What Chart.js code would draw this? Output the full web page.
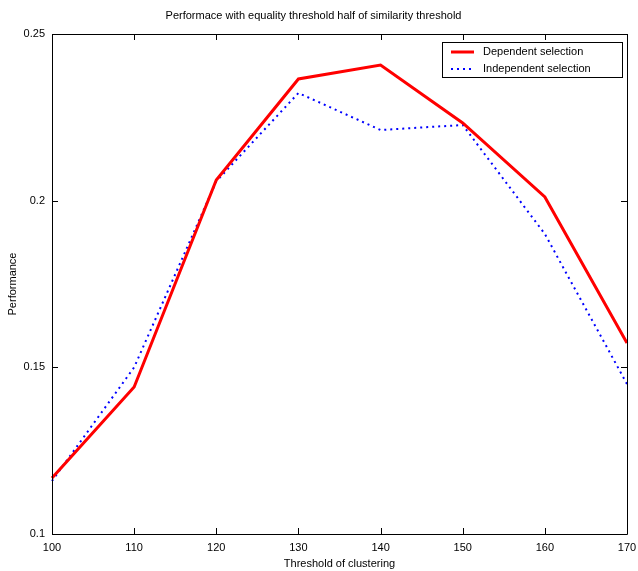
<!DOCTYPE html>
<html>
<head>
<meta charset="utf-8">
<script src="https://cdn.jsdelivr.net/npm/chart.js@4.4.0/dist/chart.umd.min.js"></script>
<style>
  html, body { margin: 0; padding: 0; background: #fff; }
  #c { display: block; }
</style>
</head>
<body>
<canvas id="c" width="638" height="571"></canvas>
<script>
const thresholds = [100, 110, 120, 130, 140, 150, 160, 170];
const dependentSelection = [0.1168, 0.1441, 0.2062, 0.2365, 0.2407, 0.2233, 0.2011, 0.1573];
const independentSelection = [0.1159, 0.1500, 0.2058, 0.2323, 0.2212, 0.2227, 0.1900, 0.1450];
const yTickValues = [0.1, 0.15, 0.2, 0.25];
const titleText = 'Performace with equality threshold half of similarity threshold';
const xTitle = 'Threshold of clustering';
const yTitle = 'Performance';
const seriesNames = ['Dependent selection', 'Independent selection'];

const FONT = '"Liberation Sans", Arial, Helvetica, sans-serif';

const framePlugin = {
  id: 'matlabFrame',
  afterDraw(chart) {
    const ctx = chart.ctx;
    const a = chart.chartArea;
    const xs = chart.scales.x, ys = chart.scales.y;
    ctx.save();
    ctx.strokeStyle = '#000';
    ctx.lineWidth = 1;
    ctx.beginPath();
    ctx.rect(Math.round(a.left) + 0.5, Math.round(a.top) + 0.5,
             Math.round(a.right - a.left), Math.round(a.bottom - a.top));
    ctx.stroke();
    const tl = 6;
    ctx.beginPath();
    thresholds.forEach((t, i) => {
      const px = Math.round(xs.getPixelForValue(i)) + 0.5;
      ctx.moveTo(px, a.bottom); ctx.lineTo(px, a.bottom - tl);
      ctx.moveTo(px, a.top); ctx.lineTo(px, a.top + tl);
    });
    yTickValues.forEach(v => {
      const py = Math.round(ys.getPixelForValue(v)) + 0.5;
      ctx.moveTo(a.left, py); ctx.lineTo(a.left + tl, py);
      ctx.moveTo(a.right, py); ctx.lineTo(a.right - tl, py);
    });
    ctx.stroke();

    // legend box (inside the axes, top-right)
    const lw = 180, lh = 35;
    const lx = Math.round(a.right) - 5 - lw, ly = Math.round(a.top) + 8;
    ctx.fillStyle = '#fff';
    ctx.fillRect(lx, ly, lw, lh);
    ctx.strokeRect(lx + 0.5, ly + 0.5, lw, lh);
    ctx.font = '11px ' + FONT;
    ctx.textBaseline = 'middle';
    ctx.textAlign = 'left';
    chart.data.datasets.forEach((ds, i) => {
      const yy = ly + 10 + i * 17;
      ctx.save();
      ctx.strokeStyle = ds.borderColor;
      ctx.lineWidth = ds.borderWidth;
      ctx.setLineDash(ds.borderDash || []);
      ctx.beginPath();
      ctx.moveTo(lx + 9, yy); ctx.lineTo(lx + 32, yy);
      ctx.stroke();
      ctx.restore();
      ctx.fillStyle = '#000';
      ctx.fillText(ds.label, lx + 41, yy);
    });
    ctx.restore();
  }
};

new Chart(document.getElementById('c'), {
  type: 'line',
  data: {
    labels: thresholds.map(String),
    datasets: [
      {
        label: seriesNames[0],
        data: dependentSelection,
        borderColor: '#ff0000',
        borderWidth: 3,
        pointRadius: 0,
        tension: 0,
        fill: false
      },
      {
        label: seriesNames[1],
        data: independentSelection,
        borderColor: '#0000ff',
        borderWidth: 2,
        borderDash: [2, 4],
        pointRadius: 0,
        tension: 0,
        fill: false
      }
    ]
  },
  options: {
    responsive: false,
    animation: false,
    events: [],
    layout: { padding: { top: 0, right: 11, bottom: 0, left: 0 } },
    plugins: {
      legend: { display: false },
      tooltip: { enabled: false },
      title: {
        display: true,
        text: titleText,
        color: '#000',
        font: { family: FONT, size: 11, weight: 'normal', lineHeight: 1.2 },
        padding: { top: 9, bottom: 11.8 }
      }
    },
    scales: {
      x: {
        type: 'category',
        offset: false,
        grid: { display: false, drawTicks: false },
        border: { display: false },
        ticks: {
          color: '#000',
          font: { family: FONT, size: 11 },
          padding: 7,
          maxRotation: 0,
          autoSkip: false
        },
        title: {
          display: true,
          text: xTitle,
          color: '#000',
          font: { family: FONT, size: 11, lineHeight: 1.2 },
          padding: { top: 0, bottom: 0 }
        },
        afterFit(scale) { scale.height = 37; scale.paddingRight = 0; scale.paddingLeft = 0; }
      },
      y: {
        type: 'linear',
        min: 0.1,
        max: 0.25,
        grid: { display: false, drawTicks: false },
        border: { display: false },
        afterBuildTicks(scale) { scale.ticks = yTickValues.map(v => ({ value: v })); },
        ticks: {
          color: '#000',
          font: { family: FONT, size: 11 },
          padding: 7,
          callback: v => String(v)
        },
        title: {
          display: true,
          text: yTitle,
          color: '#000',
          font: { family: FONT, size: 11, lineHeight: 1.2 },
          padding: { top: 6, bottom: 0 }
        },
        afterFit(scale) { scale.width = 52; scale.paddingTop = 0; scale.paddingBottom = 0; }
      }
    }
  },
  plugins: [framePlugin]
});
</script>
</body>
</html>
